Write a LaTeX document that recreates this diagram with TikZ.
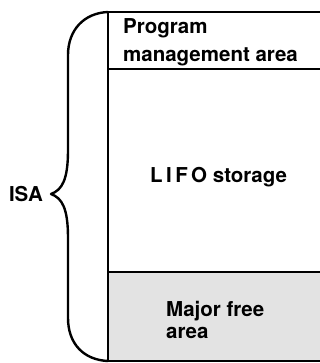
\documentclass[tikz,border=0pt]{standalone}
\usepackage{fontspec}
\setmainfont{TeX Gyre Heros}
\usetikzlibrary{positioning}

\begin{document}
\begin{tikzpicture}[
  x=1pt, y=-1pt,
  font=\fontsize{20.5}{24}\selectfont\bfseries,
  arealine/.style={line width=1.2pt},
  splitline/.style={line width=2pt},
  bracestroke/.style={line width=2.4pt, line join=round, line cap=round},
  freefill/.style={fill=black!11},
  arealabel/.style={inner sep=0pt, anchor=north west, align=left}
]

\useasboundingbox (0,0) rectangle (320,363);

% Major free area shading
\fill[freefill] (108,272) rectangle (320,361);

% Corners of the storage column
\coordinate (topleft) at (108,12);
\coordinate (topright) at (320,12);
\coordinate (botleft) at (108,361);
\coordinate (botright) at (320,361);
\coordinate (pmaleft) at (108,69);
\coordinate (pmaright) at (320,69);
\coordinate (freeleft) at (108,272);
\coordinate (freeright) at (320,272);

% Area boundaries
\draw[arealine] (topleft) -- (topright);
\draw[arealine] (pmaleft) -- (pmaright);
\draw[splitline] (freeleft) -- (freeright);
\draw[arealine] (botleft) -- (botright);
\draw[arealine] (topleft) -- (botleft);

% Area labels
\node[arealabel, font=\fontsize{20.5}{28}\selectfont\bfseries] (pma) at (123,18)
  {Program\\management area};
\node[arealabel] (lifo) at (150,167) {L\,I\,F\,O storage};
\node[arealabel, font=\fontsize{20.5}{22}\selectfont\bfseries] (free) at (166,301)
  {Major free\\area};

% Brace
\coordinate (tip) at (51,194);
\draw[bracestroke] (topleft) .. controls (84,13) and (68,30) .. (68,55)
  -- (68,150) .. controls (68,180) and (62,190) .. (tip)
  .. controls (62,198) and (68,208) .. (68,238)
  -- (68,318) .. controls (68,344) and (84,360) .. (botleft);

\node[inner sep=0pt, anchor=east] (isa) at ([xshift=-8pt]tip) {ISA};

\end{tikzpicture}
\end{document}
